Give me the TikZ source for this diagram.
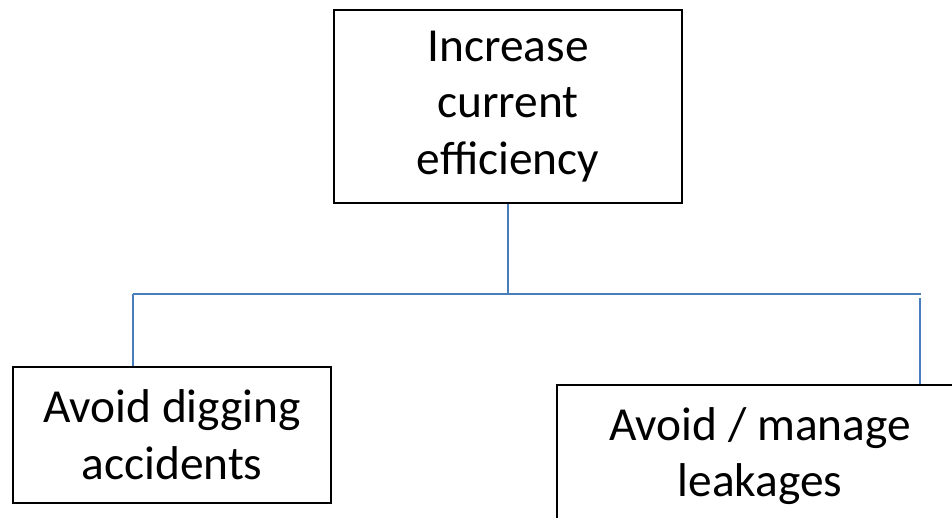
\documentclass[tikz,border=0pt]{standalone}
\usepackage{fontspec}
\setmainfont{Carlito}
\usetikzlibrary{positioning}
\definecolor{linkblue}{RGB}{74,126,187}

\begin{document}
\begin{tikzpicture}[x=0.5pt,y=-0.5pt]
\tikzset{goal/.style={draw, line width=1pt, align=center, inner sep=0pt,
  font=\fontsize{23.7}{28.3}\selectfont},
  link/.style={linkblue, line width=1.3pt}}
\useasboundingbox (0,0) rectangle (952,518);

\node[goal, minimum width=174.25pt, minimum height=96.5pt] (top) at (508,106.5) {Increase\\current\\efficiency};
\node[goal, minimum width=159pt, minimum height=68pt] (left) at (172,435) {Avoid digging\\accidents};
\node[goal, minimum width=203pt, minimum height=71pt] (right) at (760,456) {Avoid / manage\\leakages};

\coordinate (bus) at (508,294);
\coordinate (lbus) at (133,294);
\coordinate (rbus) at (921,294);
\coordinate (rdrop) at (920,298);

\draw[link] (top.south) -- (bus);
\draw[link] (lbus) -- (rbus);
\draw[link] (lbus) -- (lbus |- left.north);
\draw[link] (rdrop) -- (rdrop |- right.north);
\end{tikzpicture}
\end{document}
